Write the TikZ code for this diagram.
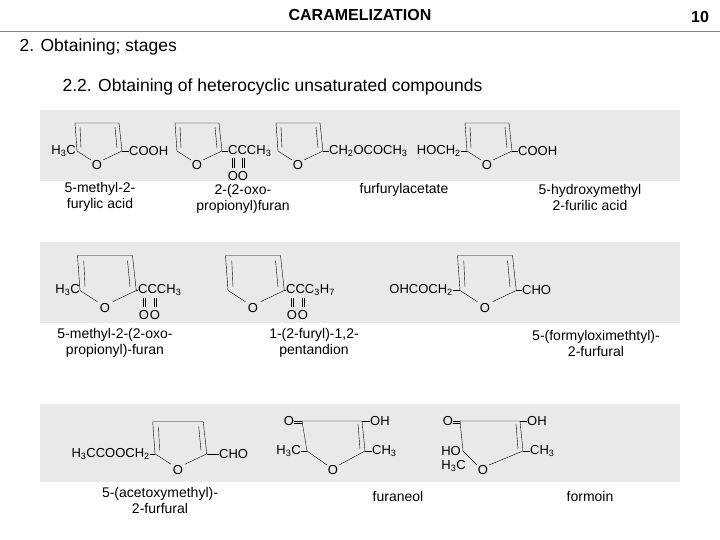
\documentclass[tikz,border=0pt]{standalone}
\usepackage{fontspec}
\setmainfont{Liberation Sans}
\tikzstyle{band}=[fill=gray!17, draw=none]
\tikzstyle{chem}=[inner sep=0pt, font=\fontsize{13}{13}\selectfont]
\tikzstyle{lbl}=[align=center, font=\fontsize{14}{16}\selectfont]
% furan ring, O at (#1,#2), size #3
\newcommand{\furan}[4]{%
\node[chem] (#4) at (#1,#2) {O};
\begin{scope}[shift={(#1,#2)}, scale=#3]
\draw (-6,-5) -- (-20,-14) -- (-22,-42) -- (22,-42) -- (25,-14) -- (6,-5);
\draw (-16,-17) -- (-17,-38);
\draw (18,-38) -- (20,-17);
\end{scope}}

\begin{document}
\begin{tikzpicture}[x=1pt, y=-1pt, thin]
\useasboundingbox (0,0) rectangle (720,540);

% header
\node[font=\bfseries\fontsize{16}{16}\selectfont] (title) at (360,15) {CARAMELIZATION};
\node[font=\bfseries\fontsize{16}{16}\selectfont] (page) at (700,17) {10};
\draw[gray] (0,31) -- (720,31);
\node[anchor=west, font=\fontsize{17.5}{18}\selectfont] (sec) at (16,47) {2. Obtaining; stages};
\node[anchor=west, font=\fontsize{17.5}{18}\selectfont] (sub) at (59,87) {2.2. Obtaining of heterocyclic unsaturated compounds};

% bands
\fill[band] (40,110) rectangle (680,181);
\fill[band] (40,242) rectangle (680,323);
\fill[band] (40,404) rectangle (680,482);

% row 1
\furan{97}{165}{1}{o1}
\node[chem, anchor=east] (m1) at (76,151) {H\textsubscript{3}C};
\node[chem, anchor=west] (c1) at (129,151) {COOH};
\draw (122,151) -- (c1.west);
\furan{197}{165}{1}{o2}
\node[chem, anchor=west] (c2) at (228,151) {CCCH\textsubscript{3}};
\draw (222,151) -- (c2.west);
\draw (232,158) -- (232,168) (234,158) -- (234,168);
\draw (242,158) -- (242,168) (244,158) -- (244,168);
\node[chem] (d2a) at (233,176) {O};
\node[chem] (d2b) at (243,176) {O};
\furan{298}{165}{1}{o3}
\node[chem, anchor=west] (c3) at (329,151) {CH\textsubscript{2}OCOCH\textsubscript{3}};
\draw (323,151) -- (c3.west);
\furan{487}{165}{1}{o4}
\node[chem, anchor=east] (m4) at (461,151) {HOCH\textsubscript{2}};
\draw (m4.east) -- (467,151);
\node[chem, anchor=west] (c4) at (518,151) {COOH};
\draw (512,151) -- (c4.west);

\node[lbl] (l1) at (100,197) {5-methyl-2-\\furylic acid};
\node[lbl] (l2) at (243,199) {2-(2-oxo-\\propionyl)furan};
\node[lbl] (l3) at (404,190) {furfurylacetate};
\node[lbl] (l4) at (590,197) {5-hydroxymethyl\\2-furilic acid};

% row 2
\furan{105}{308}{1.25}{o5}
\node[chem, anchor=east] (m5) at (80,290) {H\textsubscript{3}C};
\node[chem, anchor=west] (c5) at (138,290) {CCCH\textsubscript{3}};
\draw (136,290) -- (c5.west);
\draw (143,298) -- (143,307) (145,298) -- (145,307);
\draw (154,298) -- (154,307) (156,298) -- (156,307);
\node[chem] (d5a) at (144,315) {O};
\node[chem] (d5b) at (155,315) {O};
\furan{253}{308}{1.25}{o6}
\node[chem, anchor=west] (c6) at (286,290) {CCC\textsubscript{3}H\textsubscript{7}};
\draw (284,290) -- (c6.west);
\draw (291,298) -- (291,307) (293,298) -- (293,307);
\draw (302,298) -- (302,307) (304,298) -- (304,307);
\node[chem] (d6a) at (292,315) {O};
\node[chem] (d6b) at (303,315) {O};
\furan{485}{308}{1.25}{o7}
\node[chem, anchor=east] (m7) at (453,290) {OHCOCH\textsubscript{2}};
\draw (m7.east) -- (460,290);
\node[chem, anchor=west] (c7) at (522,290) {CHO};
\draw (516,290) -- (c7.west);

\node[lbl] (l5) at (115,343) {5-methyl-2-(2-oxo-\\propionyl)-furan};
\node[lbl] (l6) at (314,343) {1-(2-furyl)-1,2-\\pentandion};
\node[lbl] (l7) at (596,343) {5-(formyloximethtyl)-\\2-furfural};

% row 3
\furan{178}{470}{1.15}{o8}
\node[chem, anchor=east] (m8) at (150,454) {H\textsubscript{3}CCOOCH\textsubscript{2}};
\draw (m8.east) -- (155,454);
\node[chem, anchor=west] (c8) at (219,454) {CHO};
\draw (207,454) -- (c8.west);
% furaneol
\node[chem] (o9) at (333,470) {O};
\node[chem] (k9) at (289,421) {O};
\node[chem, anchor=west] (h9) at (370,421) {OH};
\node[chem, anchor=west] (c9) at (372,451) {CH\textsubscript{3}};
\node[chem, anchor=east] (m9) at (301,451) {H\textsubscript{3}C};
\draw (327,465) -- (307,451) -- (302,421) -- (362,421) -- (365,451) -- (339,465);
\draw (k9.east) -- (302,421) (k9.east) ++(0,2) -- (302,423);
\draw (358,424) -- (360,449);
\draw (362,421) -- (h9.west) (365,451) -- (c9.west) (m9.east) -- (307,451);
% formoin
\node[chem] (o10) at (483,470) {O};
\node[chem] (k10) at (448,421) {O};
\node[chem, anchor=west] (h10) at (527,421) {OH};
\node[chem, anchor=west] (c10) at (530,451) {CH\textsubscript{3}};
\node[chem, anchor=east] (hy10) at (461,451) {HO};
\node[chem, anchor=east] (m10) at (466,466) {H\textsubscript{3}C};
\draw (477,465) -- (463,451) -- (460,421) -- (520,421) -- (523,451) -- (489,465);
\draw (k10.east) -- (460,421) (k10.east) ++(0,2) -- (460,423);
\draw (516,424) -- (518,449);
\draw (520,421) -- (h10.west) (523,451) -- (c10.west);

\node[lbl] (l8) at (160,500) {5-(acetoxymethyl)-\\2-furfural};
\node[lbl] (l9) at (398,496) {furaneol};
\node[lbl] (l10) at (590,496) {formoin};
\end{tikzpicture}
\end{document}
